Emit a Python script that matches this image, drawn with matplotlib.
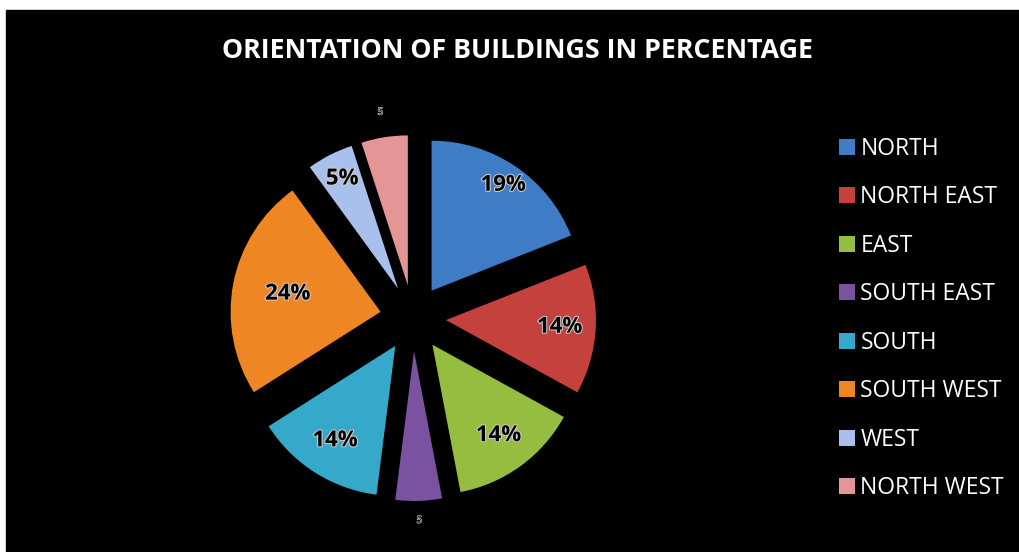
import matplotlib
matplotlib.use("Agg")
import numpy as np
import matplotlib.pyplot as plt
import matplotlib.patheffects as pe
from matplotlib.patches import Rectangle

directions = ["NORTH", "NORTH EAST", "EAST", "SOUTH EAST",
              "SOUTH", "SOUTH WEST", "WEST", "NORTH WEST"]
percent = [19, 14, 14, 5, 14, 24, 5, 5]
colors = ["#3F7CC6", "#C4413D", "#95BE40", "#7A52A0",
          "#36A8CA", "#EF8624", "#AAC0EC", "#E49595"]
# how far out (fraction of radius) each percentage sits
label_dist = [0.85, 0.76, 0.75, 1.13, 0.75, 0.63, 0.82, 1.17]

plt.rcParams['font.family'] = ['Open Sans', 'DejaVu Sans']

fig = plt.figure(figsize=(10.19, 5.52), dpi=100)
fig.patch.set_facecolor("white")
# black panel with the thin white margin on the left/top
fig.patches.append(Rectangle((6 / 1019, 0), 1, (552 - 10) / 552,
                             transform=fig.transFigure, color="black", zorder=-5))

ax = fig.add_axes([0, 0, 1, 1])
ax.patch.set_alpha(0)
ax.set_zorder(2)

cx, cy, r = 413, 552 - 318, 150
# explode in pie is in data units, so scale by the radius
wedges, _ = ax.pie(percent, colors=colors, startangle=90, counterclock=False,
                   explode=[0.22 * r] * len(percent), center=(cx, cy), radius=r,
                   wedgeprops=dict(linewidth=0))
ax.set_xlim(0, 1019)
ax.set_ylim(0, 552)
ax.axis("off")

for w, p, d in zip(wedges, percent, label_dist):
    mid = np.deg2rad((w.theta1 + w.theta2) / 2)
    x = w.center[0] + d * w.r * np.cos(mid)
    y = w.center[1] + d * w.r * np.sin(mid)
    if d > 1:
        ax.text(x, y, str(p), ha="center", va="center", fontsize=7, color="black",
                path_effects=[pe.withStroke(linewidth=0.8, foreground="#dddddd")])
    else:
        ax.text(x, y, f"{p}%", ha="center", va="center", fontsize=16,
                fontweight="bold", color="black",
                path_effects=[pe.withStroke(linewidth=1.5, foreground="#cccccc")])

fig.text(518 / 1019, 1 - 51 / 552, "ORIENTATION OF BUILDINGS IN PERCENTAGE",
         ha="center", va="center", color="white", fontsize=19.3, fontweight="bold")

leg = ax.legend(wedges, directions, loc="upper left",
                bbox_to_anchor=(818 / 1019, 1 - 116 / 552), frameon=False,
                fontsize=16.5, labelcolor="white", handlelength=0.7,
                handleheight=0.7, handletextpad=0.25, labelspacing=1.07)

fig.savefig("out.png", dpi=100, facecolor=fig.get_facecolor())
